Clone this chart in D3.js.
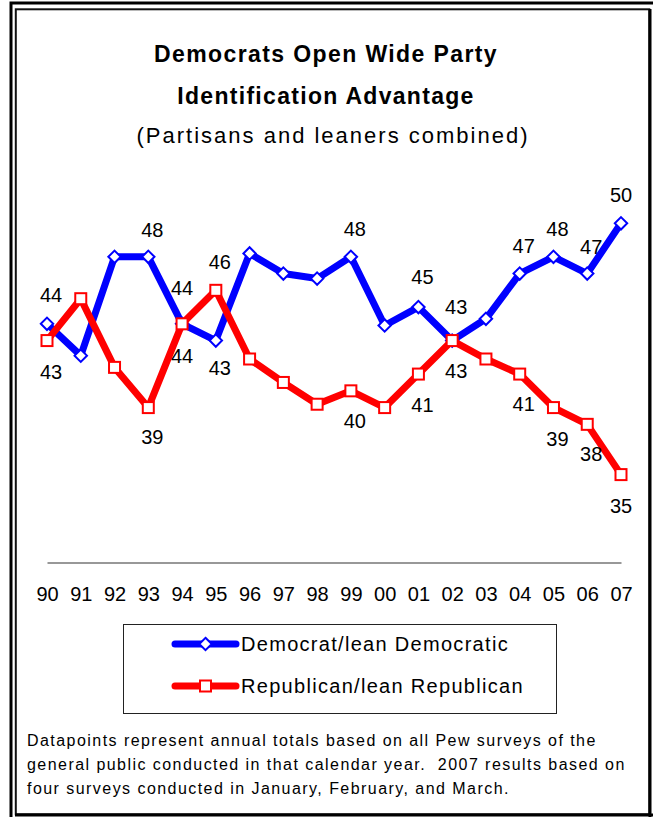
<!DOCTYPE html>
<html>
<head>
<meta charset="utf-8">
<script src="https://cdn.jsdelivr.net/npm/d3@7/dist/d3.min.js"></script>
<style>
  body { margin: 0; background: #fff; }
  svg { display: block; }
  text { font-family: Arial, "Liberation Sans", sans-serif; fill: #000; }
</style>
</head>
<body>
<svg id="chart" width="653" height="817"></svg>
<script>
// Survey years shown on the category axis
const years = ["90","91","92","93","94","95","96","97","98","99","00","01","02","03","04","05","06","07"];

// Share identifying with / leaning to each party (%)
const democrat   = [44, 42.1, 48, 48, 44, 43, 48.2, 47.0, 46.7, 48, 43.9, 45, 43, 44.3, 47, 48, 47, 50];
const republican = [43, 45.5, 41.4, 39, 44, 46, 41.9, 40.5, 39.2, 40, 39.0, 41, 43, 41.9, 41, 39, 38, 35];

// Years whose values carry a printed label
const demLabelled = ["90","93","94","95","99","01","02","04","05","06","07"];
const repLabelled = ["90","93","94","95","99","01","02","04","05","06","07"];

const seriesNames = ["Democrat/lean Democratic", "Republican/lean Republican"];

const footnote = [
  "Datapoints represent annual totals based on all Pew surveys of the",
  "general public conducted in that calendar year.  2007 results based on",
  "four surveys conducted in January, February, and March."
];

const svg = d3.select("#chart");

// Double frame around the whole figure
svg.append("rect").attr("x", 11).attr("y", 3).attr("width", 700).attr("height", 900)
  .attr("fill", "none").attr("stroke", "#000").attr("stroke-width", 3);
svg.append("rect").attr("x", 15.8).attr("y", 9.3).attr("width", 633.5).attr("height", 805)
  .attr("fill", "none").attr("stroke", "#111").attr("stroke-width", 2);
svg.append("line").attr("x1", 650).attr("x2", 650).attr("y1", 9).attr("y2", 817)
  .attr("stroke", "#000").attr("stroke-width", 3);
svg.append("line").attr("x1", 15).attr("x2", 653).attr("y1", 815).attr("y2", 815)
  .attr("stroke", "#000").attr("stroke-width", 3);

// Titles
svg.append("text").attr("x", 326).attr("y", 62).attr("text-anchor", "middle")
  .style("font-size", "23px").style("font-weight", "bold").style("letter-spacing", "1.4px")
  .text("Democrats Open Wide Party");
svg.append("text").attr("x", 326).attr("y", 104).attr("text-anchor", "middle")
  .style("font-size", "23px").style("font-weight", "bold").style("letter-spacing", "1.3px")
  .text("Identification Advantage");
svg.append("text").attr("x", 333).attr("y", 143).attr("text-anchor", "middle")
  .style("font-size", "22px").style("letter-spacing", "2px")
  .text("(Partisans and leaners combined)");

// Scales
const x = d3.scalePoint().domain(years).range([47, 621]);
const y = d3.scaleLinear().domain([35, 50]).range([474.6, 223.3]);

// Category axis
const axisG = svg.append("g").attr("transform", "translate(0,562.5)")
  .call(d3.axisBottom(x).tickSize(0).tickSizeOuter(0).tickPadding(24));
axisG.select(".domain").attr("stroke", "#333").attr("stroke-width", 1.2);
axisG.selectAll("text").style("font-size", "20px")
  .style("font-family", 'Arial, "Liberation Sans", sans-serif').attr("fill", "#000");

const line = d3.line().x((d, i) => x(years[i])).y(d => y(d));

const blue = "#0000ff", red = "#ff0000";

function diamond(sel, r) {
  sel.attr("d", `M0,${-r}L${r},0L0,${r}L${-r},0Z`);
}

// Democrat series
svg.append("path").datum(democrat).attr("d", line)
  .attr("fill", "none").attr("stroke", blue).attr("stroke-width", 7).attr("stroke-linejoin", "round");
svg.append("g").selectAll("path").data(democrat).join("path")
  .attr("transform", (d, i) => `translate(${x(years[i])},${y(d)})`)
  .call(diamond, 6.2)
  .attr("fill", "#fff").attr("stroke", blue).attr("stroke-width", 2);

// Republican series
svg.append("path").datum(republican).attr("d", line)
  .attr("fill", "none").attr("stroke", red).attr("stroke-width", 7).attr("stroke-linejoin", "round");
svg.append("g").selectAll("rect").data(republican).join("rect")
  .attr("x", (d, i) => x(years[i]) - 5.5).attr("y", d => y(d) - 5.5)
  .attr("width", 11).attr("height", 11)
  .attr("fill", "#fff").attr("stroke", red).attr("stroke-width", 2);

// Value labels: Democrats mostly above the line, Republicans mostly below
const demOffset = {"90":-29,"93":-27,"94":-36,"95":27,"99":-28,"01":-30,"02":-34,"04":-28,"05":-28,"06":-27,"07":-28};
const repOffset = {"90":31,"93":29,"94":32,"95":-28,"99":30,"01":31,"02":30,"04":30,"05":31,"06":30,"07":31};
const nudge = yr => (yr === "94" || yr === "07") ? 0 : 4;

function labels(values, labelled, offset) {
  svg.append("g").selectAll("text")
    .data(labelled.map(yr => ({ yr, v: values[years.indexOf(yr)] })))
    .join("text")
    .attr("x", d => x(d.yr) + nudge(d.yr))
    .attr("y", d => y(d.v) + offset[d.yr])
    .attr("text-anchor", "middle").attr("dominant-baseline", "central")
    .style("font-size", "20px")
    .text(d => d3.format(".0f")(d.v));
}
labels(democrat, demLabelled, demOffset);
labels(republican, repLabelled, repOffset);

// Legend
const legend = svg.append("g");
legend.append("rect").attr("x", 123.5).attr("y", 624.5).attr("width", 433).attr("height", 89)
  .attr("fill", "#fff").attr("stroke", "#222").attr("stroke-width", 1);
const legendRows = [
  { name: seriesNames[0], color: blue, cy: 644, shape: "diamond" },
  { name: seriesNames[1], color: red, cy: 686, shape: "square" }
];
legendRows.forEach(r => {
  legend.append("line").attr("x1", 175).attr("x2", 236).attr("y1", r.cy).attr("y2", r.cy)
    .attr("stroke", r.color).attr("stroke-width", 7).attr("stroke-linecap", "round");
  if (r.shape === "diamond") {
    legend.append("path").attr("transform", `translate(205.5,${r.cy})`).call(diamond, 6.2)
      .attr("fill", "#fff").attr("stroke", r.color).attr("stroke-width", 2);
  } else {
    legend.append("rect").attr("x", 200).attr("y", r.cy - 5.5).attr("width", 11).attr("height", 11)
      .attr("fill", "#fff").attr("stroke", r.color).attr("stroke-width", 2);
  }
  legend.append("text").attr("x", 241).attr("y", r.cy + 7)
    .style("font-size", "20px").style("letter-spacing", "1.3px").text(r.name);
});

// Footnote
svg.append("g").selectAll("text").data(footnote).join("text")
  .attr("x", 27).attr("y", (d, i) => 746 + i * 24)
  .style("font-size", "16px").style("letter-spacing", "1.45px").style("white-space", "pre")
  .text(d => d);
</script>
</body>
</html>
